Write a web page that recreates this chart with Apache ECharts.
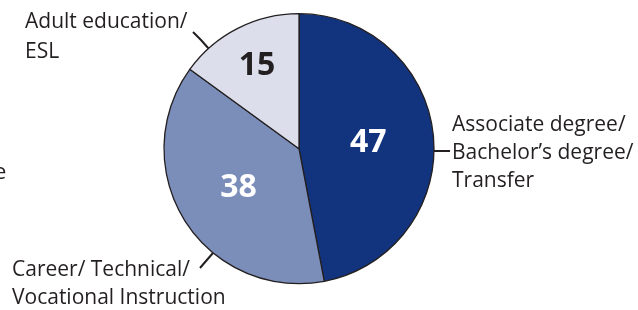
<!DOCTYPE html>
<html>
<head>
<meta charset="utf-8">
<script src="https://cdn.jsdelivr.net/npm/echarts@6/dist/echarts.min.js"></script>
<style>
  html, body { margin: 0; padding: 0; background: #fff; }
  #chart { width: 638px; height: 310px; }
</style>
</head>
<body>
<div id="chart"></div>
<script>
// 数据
var categories = ['Associate degree/\nBachelor\u2019s degree/\nTransfer', 'Career/ Technical/\nVocational Instruction', 'Adult education/\nESL']
var values = [47, 38, 15]
var colors = ['#12347e', '#7b8eba', '#dcdfeb']
var numberColors = ['#ffffff', '#ffffff', '#231f20']

// 标签位置 (外部文字 + 引线)
var numberShift = [[-1, 1], [-1, 1], [-10, -20]]
var outerLabels = [
  { x: 452, y: 153, lineHeight: 28, line: [[434, 151], [442, 151], [450, 151]] },
  { x: 12, y: 284, lineHeight: 28, line: [[213, 253], [206, 261], [200, 268]] },
  { x: 25, y: 37, lineHeight: 30, line: [[209, 49], [201, 40], [193, 32]] }
]

var textColor = '#231f20'
var font = 'Open Sans'
var center = [299, 148.7]
var radius = 135

var chart = echarts.init(document.getElementById('chart'))
chart.setOption({
  animation: false,
  series: [{
    type: 'pie',
    center: center,
    radius: radius,
    startAngle: 90,
    clockwise: true,
    avoidLabelOverlap: false,
    itemStyle: {
      borderColor: textColor,
      borderWidth: 1.3
    },
    label: {
      show: true,
      position: 'inside',
      formatter: '{c}',
      fontFamily: font,
      fontWeight: 'bold',
      fontSize: 32
    },
    labelLayout: function (p) {
      return { dx: numberShift[p.dataIndex][0], dy: numberShift[p.dataIndex][1] }
    },
    data: values.map(function (v, i) {
      return {
        value: v,
        name: categories[i],
        itemStyle: { color: colors[i] },
        label: { color: numberColors[i] }
      }
    })
  }, {
    // 外部名称标签
    type: 'pie',
    center: center,
    radius: radius,
    startAngle: 90,
    clockwise: true,
    silent: true,
    avoidLabelOverlap: false,
    itemStyle: { color: 'rgba(0,0,0,0)', borderWidth: 0 },
    label: {
      show: true,
      position: 'outside',
      formatter: '{b}',
      fontFamily: font,
      fontSize: 21,
      lineHeight: 28,
      color: textColor
    },
    labelLine: {
      show: true,
      lineStyle: { color: textColor, width: 2 }
    },
    labelLayout: function (p) {
      var o = outerLabels[p.dataIndex]
      return { x: o.x, y: o.y, align: 'left', verticalAlign: 'middle', labelLinePoints: o.line }
    },
    data: values.map(function (v, i) {
      return { value: v, name: categories[i], label: { lineHeight: outerLabels[i].lineHeight } }
    })
  }],
  graphic: [{
    type: 'text',
    left: -6,
    top: 162,
    style: { text: 'e', fontFamily: font, fontSize: 22, fill: textColor }
  }]
})
</script>
</body>
</html>
